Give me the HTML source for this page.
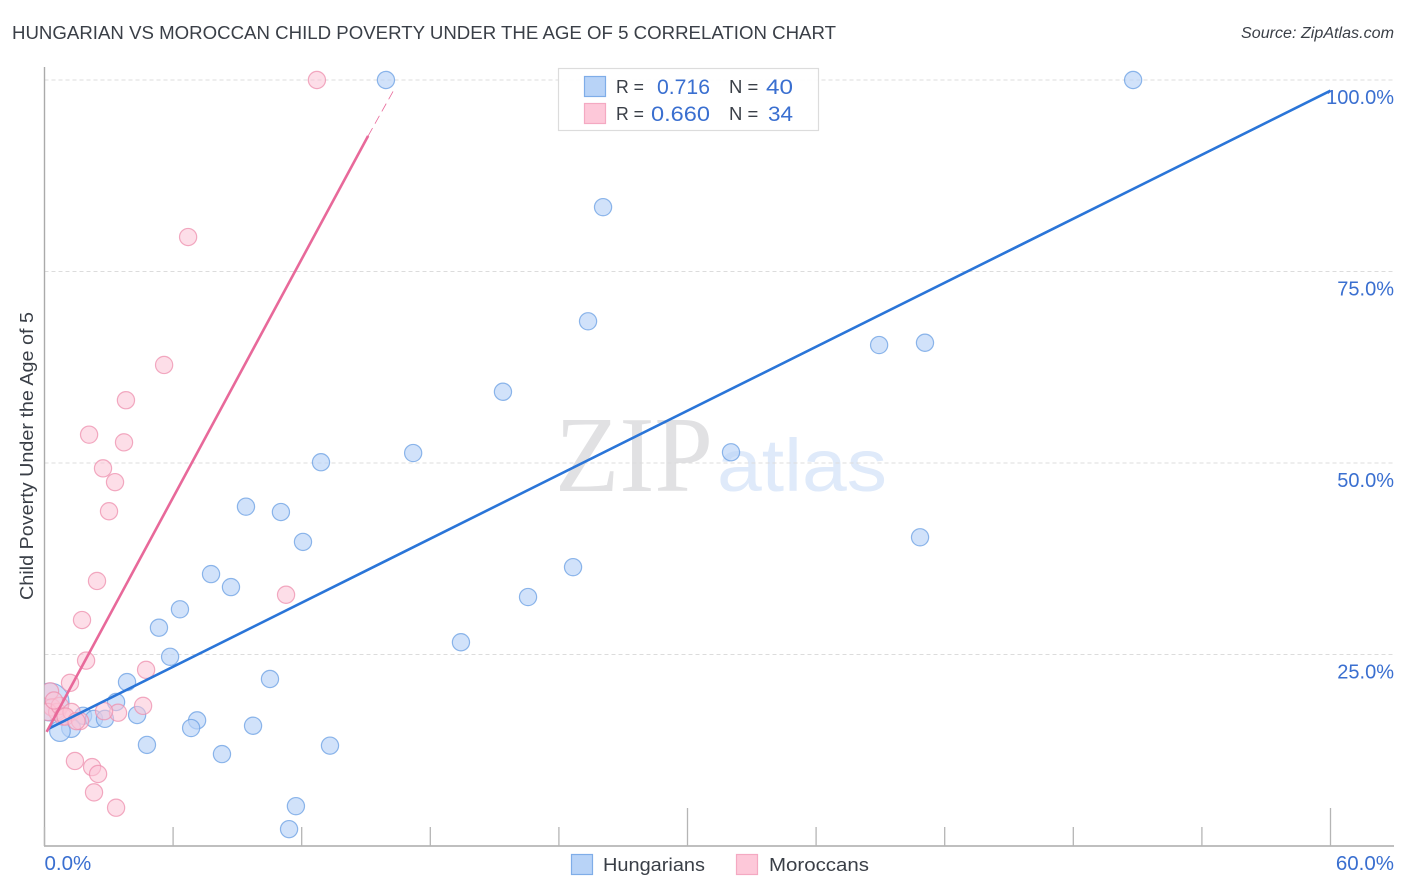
<!DOCTYPE html>
<html>
<head>
<meta charset="utf-8">
<title>Hungarian vs Moroccan Child Poverty Under the Age of 5 Correlation Chart</title>
<style>
html,body{margin:0;padding:0;background:#fff;width:1406px;height:892px;overflow:hidden}
svg{display:block}
text{font-family:"Liberation Sans",sans-serif}
</style>
</head>
<body>
<svg id="chart" width="1406" height="892" viewBox="0 0 1406 892" xmlns="http://www.w3.org/2000/svg">
  <defs><clipPath id="plot-clip"><rect x="44.5" y="60" width="1350" height="786"/></clipPath></defs>
  <text x="12" y="39" font-size="18.5" fill="#3a3f47" textLength="824" lengthAdjust="spacingAndGlyphs">HUNGARIAN VS MOROCCAN CHILD POVERTY UNDER THE AGE OF 5 CORRELATION CHART</text>
  <text x="1241" y="38" font-size="15.5" font-style="italic" fill="#3a3f47" textLength="153" lengthAdjust="spacingAndGlyphs">Source: ZipAtlas.com</text>
  <text transform="translate(33,456) rotate(-90)" font-size="18.5" fill="#3a3f47" text-anchor="middle" textLength="288" lengthAdjust="spacingAndGlyphs">Child Poverty Under the Age of 5</text>
  <g>
    <text x="555" y="491" font-size="108" fill="#e1e1e3" textLength="158" lengthAdjust="spacingAndGlyphs" style="font-family:'Liberation Serif',serif">ZIP</text>
    <text x="717" y="491" font-size="74" fill="#dfeafa" textLength="170" lengthAdjust="spacingAndGlyphs">atlas</text>
  </g>
  <g id="grid"></g>
  <g id="axes"></g>
  <g id="points" clip-path="url(#plot-clip)"></g>
  <g id="trends"></g>
  <g id="ticklabels"></g>
  <g>
    <rect x="558.5" y="68.5" width="260" height="62" fill="#fff" fill-opacity="0.9" stroke="#dcdcdc" stroke-width="1.2"/>
    <rect x="584.5" y="76.5" width="21" height="20" fill="#b8d3f7" stroke="#7fade8" stroke-width="1.2"/>
    <rect x="584.5" y="103.5" width="21" height="20" fill="#fdc8d9" stroke="#f4a9c2" stroke-width="1.2"/>
    <text x="616" y="93" font-size="18.5" fill="#3a3f47" textLength="28" lengthAdjust="spacingAndGlyphs">R =</text>
    <text x="657" y="94" font-size="21.5" fill="#3a6fd0" textLength="53" lengthAdjust="spacingAndGlyphs">0.716</text>
    <text x="729" y="93" font-size="18.5" fill="#3a3f47">N =</text>
    <text x="766" y="94" font-size="21.5" fill="#3a6fd0" textLength="27" lengthAdjust="spacingAndGlyphs">40</text>
    <text x="616" y="120" font-size="18.5" fill="#3a3f47" textLength="28" lengthAdjust="spacingAndGlyphs">R =</text>
    <text x="651" y="121" font-size="21.5" fill="#3a6fd0" textLength="59" lengthAdjust="spacingAndGlyphs">0.660</text>
    <text x="729" y="120" font-size="18.5" fill="#3a3f47">N =</text>
    <text x="768" y="121" font-size="21.5" fill="#3a6fd0" textLength="25" lengthAdjust="spacingAndGlyphs">34</text>
  </g>
  <g>
    <g>
      <rect x="571.5" y="854.5" width="21" height="20" fill="#b8d3f7" stroke="#7fade8" stroke-width="1.2"/>
      <text x="603" y="871" font-size="18.5" fill="#3a3f47" textLength="102" lengthAdjust="spacingAndGlyphs">Hungarians</text>
    </g>
    <g>
      <rect x="736.5" y="854.5" width="21" height="20" fill="#fdc8d9" stroke="#f4a9c2" stroke-width="1.2"/>
      <text x="769" y="871" font-size="18.5" fill="#3a3f47" textLength="100" lengthAdjust="spacingAndGlyphs">Moroccans</text>
    </g>
  </g>
</svg>
<script>
const hungariansX = [15.93,50.79,26.06,25.36,21.39,38.94,41.08,32.03,17.2,12.9,9.4,11.03,12.06,40.85,24.66,22.56,19.43,7.77,8.7,6.32,5.34,5.86,3.85,10.52,3.34,4.32,7.12,6.84,9.73,4.78,13.32,8.28,11.73,11.41,1.8,2.31,2.82,1.24,0.72,0.26];
const hungariansY = [100,100,83.4,68.5,59.3,65.4,65.7,51.4,51.3,50.1,44.3,43.6,39.7,40.3,36.4,32.5,26.6,35.5,33.8,30.9,28.5,24.7,21.4,21.8,18.8,17.1,16.4,15.4,15.7,13.2,13.1,12,5.2,2.2,17,16.6,16.6,15.4,15,18.8];
const hungariansWeight = [1,1,1,1,1,1,1,1,1,1,1,1,1,1,1,1,1,1,1,1,1,1,1,1,1,1,1,1,1,1,1,1,1,1,1,1,1,1.1,1.2,2.2];
const moroccansX = [12.71,6.7,5.58,3.8,3.71,2.08,2.73,3.29,3.01,2.45,11.27,1.75,1.94,4.74,1.19,4.6,3.43,2.78,1.42,2.22,2.5,2.31,3.34,0.26,0.35,0.59,0.16,0.72,0.86,0.44,1.26,0.98,1.66,1.49];
const moroccansY = [100,79.5,62.8,58.2,52.7,53.7,49.3,47.5,43.7,34.6,32.8,29.5,24.2,23,21.3,18.3,17.4,17.6,11.1,10.3,9.4,7,5,20.2,18.1,17.5,17.5,18.3,16.9,19,17.5,16.9,16.3,16.3];
const hungariansTrendX = [0.18,60];
const hungariansTrendY = [15.3,98.6];
const moroccansTrendX = [0.1,15.1];
const moroccansTrendY = [14.9,92.7];
const moroccansDashX = [15.1,16.3];
const moroccansDashY = [92.7,98.7];
const yTickValues = [25,50,75,100];
const yTickLabels = ["25.0%","50.0%","75.0%","100.0%"];
const xTickValues = [0,6,12,18,24,30,36,42,48,54,60];
const xMajorTicks = [30,60];
const xEndValues = [0,60];
const xEndLabels = ["0.0%","60.0%"];

const NS = "http://www.w3.org/2000/svg";
function xScale(v){ return 44.5 + v * (1330.5 - 44.5) / 60; }
function yScale(v){ return 846 - v * (846 - 80) / 100; }
function make(tag, attrs, parent){
  const el = document.createElementNS(NS, tag);
  for (const k in attrs) el.setAttribute(k, attrs[k]);
  parent.appendChild(el);
  return el;
}
const grid = document.getElementById("grid");
const axes = document.getElementById("axes");
const pointsG = document.getElementById("points");
const trends = document.getElementById("trends");
const labels = document.getElementById("ticklabels");

yTickValues.forEach(function(v){
  const g = make("line",{x1:44.5,x2:1394,y1:yScale(v),y2:yScale(v),stroke:"#dcdcdc","stroke-width":1,"stroke-dasharray":"4 3"},grid);
  
  
});

const yAxis = make("line",{x1:44.5,x2:44.5,y1:67,y2:846,stroke:"#aaaaaa","stroke-width":1.4},axes);


const xAxis = make("line",{x1:44,x2:1394,y1:846,y2:846,stroke:"#aaaaaa","stroke-width":1.4},axes);


xTickValues.forEach(function(v){
  const t = make("line",{x1:xScale(v),x2:xScale(v),y1:xMajorTicks.indexOf(v)>=0?808:827,y2:846,stroke:"#b5b5b5","stroke-width":1.3},axes);
  
  
});

function drawPoints(xs, ys, weights, fill, stroke, opacity, baseR, name){
  xs.forEach(function(x,i){
    const w = weights ? weights[i] : 1;
    const c = make("circle",{cx:xScale(x),cy:yScale(ys[i]),r:baseR*w,fill:fill,"fill-opacity":opacity,stroke:stroke,"stroke-opacity":0.75,"stroke-width":1.2},pointsG);
    
    
  });
}
drawPoints(hungariansX, hungariansY, hungariansWeight, "#b8d3f7", "#6a9fe3", 0.65, 8.6, "hungarians-point");
drawPoints(moroccansX, moroccansY, null, "#fcc3d6", "#ee8fae", 0.55, 8.6, "moroccans-point");

const blueLine = make("line",{x1:xScale(hungariansTrendX[0]),y1:yScale(hungariansTrendY[0]),x2:xScale(hungariansTrendX[1]),y2:yScale(hungariansTrendY[1]),stroke:"#2a75d8","stroke-width":2.6},trends);


const pinkLine = make("line",{x1:xScale(moroccansTrendX[0]),y1:yScale(moroccansTrendY[0]),x2:xScale(moroccansTrendX[1]),y2:yScale(moroccansTrendY[1]),stroke:"#e8699a","stroke-width":2.6},trends);


const pinkDash = make("line",{x1:xScale(moroccansDashX[0]),y1:yScale(moroccansDashY[0]),x2:xScale(moroccansDashX[1]),y2:yScale(moroccansDashY[1]),stroke:"#e8699a","stroke-width":0.8,"stroke-dasharray":"9 5"},trends);



yTickValues.forEach(function(v,i){
  const t = make("text",{x:1394,y:yScale(v)+24,"font-size":20,fill:"#3a6fd0","text-anchor":"end"},labels);
  t.textContent = yTickLabels[i];
  
  
});
xEndValues.forEach(function(v,i){
  const t = make("text",{x:i===0?xScale(v):1394,y:870,"font-size":20.5,fill:"#3a6fd0","text-anchor":i===0?"start":"end"},labels);
  t.textContent = xEndLabels[i];
  
  
});
</script>
</body>
</html>
